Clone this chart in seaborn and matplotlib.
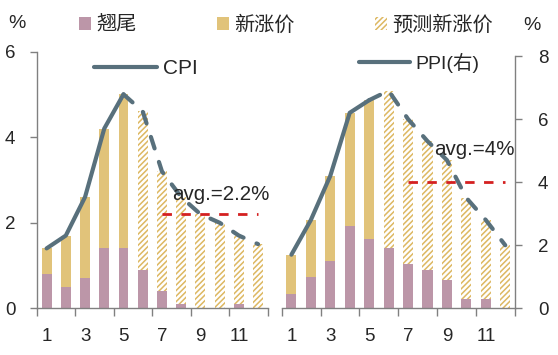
import matplotlib
matplotlib.use("Agg")
import matplotlib.pyplot as plt
import seaborn as sns
import numpy as np
import pandas as pd
from matplotlib.patches import Patch

# ---------------- data ----------------
months = list(range(1, 13))
tick_months = months[::2]
tick_labels = ["1", "3", "5", "7", "9", "11"]
n_actual = 5            # months 1-5 actual, 6-12 forecast
series_names = ["翘尾", "新涨价", "预测新涨价"]

cpi_carry = [0.8, 0.5, 0.7, 1.4, 1.4, 0.9, 0.4, 0.1, 0.0, 0.0, 0.1, 0.0]
cpi_total = [1.4, 1.7, 2.6, 4.2, 5.0, 4.6, 3.2, 2.6, 2.2, 2.0, 1.7, 1.5]
cpi_line = [1.4, 1.7, 2.6, 4.2, 5.0, 4.6, 3.2, 2.6, 2.2, 2.0, 1.7, 1.5]
cpi_avg = 2.2

ppi_carry = [0.45, 1.0, 1.5, 2.6, 2.2, 1.9, 1.4, 1.2, 0.9, 0.3, 0.3, 0.0]
ppi_total = [1.7, 2.8, 4.2, 6.2, 6.6, 6.9, 6.0, 5.3, 4.7, 3.5, 2.8, 2.0]
ppi_line = [1.7, 2.8, 4.2, 6.2, 6.6, 6.9, 6.0, 5.3, 4.7, 3.5, 2.8, 2.0]
ppi_avg = 4.0
avg_months = months[6:]

# ---------------- style ----------------
PURPLE = "#BC96A8"
TAN = "#E1C37A"
HATCH_C = "#DDB862"
SLATE = "#58707C"
RED = "#D42020"
GRAY = "#808080"
HATCH = "//////"

sns.set_theme(style="ticks")
plt.rcParams["font.family"] = ["Liberation Sans", "Noto Sans CJK SC", "DejaVu Sans"]
plt.rcParams["hatch.linewidth"] = 1.1
plt.rcParams["axes.edgecolor"] = GRAY

fig = plt.figure(figsize=(5.58, 3.55), dpi=100)
ax1 = fig.add_axes([0.0663, 0.1315, 0.4134, 0.7234])
ax2 = fig.add_axes([0.5048, 0.1315, 0.4181, 0.7107])


def draw_panel(ax, carry, total, line, avg, ymax, ystep):
    df = pd.DataFrame({"month": months, "total": total, "carry": carry})
    sns.barplot(data=df, x="month", y="total", native_scale=True, width=0.52,
                color=TAN, saturation=1, linewidth=0, errorbar=None, ax=ax)
    for p in ax.patches[n_actual:]:
        p.set_facecolor("white")
        p.set_edgecolor(HATCH_C)
        p.set_hatch(HATCH)
        p.set_linewidth(0)
    sns.barplot(data=df, x="month", y="carry", native_scale=True, width=0.52,
                color=PURPLE, saturation=1, linewidth=0, errorbar=None, ax=ax)
    # line: solid for actual, dashed for forecast
    sns.lineplot(x=months[:n_actual], y=line[:n_actual], color=SLATE, lw=3,
                 solid_capstyle="round", ax=ax)
    sns.lineplot(x=months[n_actual - 1:], y=line[n_actual - 1:], color=SLATE, lw=3,
                 linestyle=(0, (2.9, 3.4)), dash_capstyle="round", ax=ax)
    # average line
    sns.lineplot(x=avg_months, y=[avg] * len(avg_months), color=RED, lw=2,
                 linestyle=(0, (3.4, 3.4)), ax=ax)
    ax.set_xlim(months[0] - 0.5, months[-1] + 0.5)
    ax.set_ylim(0, ymax)
    ax.set_yticks(np.arange(0, ymax + 0.01, ystep))
    ax.set_xticks(tick_months)
    ax.set_xticklabels(tick_labels)
    ax.set_xticks([m - 0.5 for m in tick_months] + [months[-1] + 0.5], minor=True)
    ax.tick_params(axis="x", which="major", length=0, pad=14, labelsize=13.5)
    ax.tick_params(axis="x", which="minor", length=6, width=1, color=GRAY)
    ax.tick_params(axis="y", length=5, width=1, color=GRAY, labelsize=13.5)
    ax.set_xlabel("")
    ax.set_ylabel("")
    for s in ax.spines.values():
        s.set_color(GRAY)
        s.set_linewidth(1)
    return ax.lines[0]


l1 = draw_panel(ax1, cpi_carry, cpi_total, cpi_line, cpi_avg, 6, 2)
l2 = draw_panel(ax2, ppi_carry, ppi_total, ppi_line, ppi_avg, 8, 2)

ax1.spines["top"].set_visible(False)
ax1.spines["right"].set_visible(False)
ax1.tick_params(axis="y", pad=10.5)

ax2.spines["top"].set_visible(False)
ax2.spines["left"].set_visible(False)
ax2.yaxis.tick_right()
ax2.tick_params(axis="y", pad=11.5)

ax1.text(7.55, 2.65, f"avg.={cpi_avg:g}%", ha="left", va="center", fontsize=14.8)
ax2.text(8.35, 5.05, f"avg.={ppi_avg:g}%", ha="left", va="center", fontsize=14.8)

fig.text(17 / 558, 1 - 23 / 355, "%", ha="center", va="center", fontsize=14)
fig.text(532 / 558, 1 - 25 / 355, "%", ha="center", va="center", fontsize=14)

handles = [Patch(facecolor=PURPLE, linewidth=0),
           Patch(facecolor=TAN, linewidth=0),
           Patch(facecolor="white", edgecolor=HATCH_C, hatch=HATCH, linewidth=0)]
fig.legend(handles=handles, labels=series_names, ncol=3, loc="center",
           bbox_to_anchor=(0.512, 1 - 25 / 355), frameon=False, fontsize=14.5,
           handlelength=0.6, handleheight=0.6, handletextpad=0.25,
           columnspacing=4.0, borderpad=0, borderaxespad=0)

ax1.legend(handles=[l1], labels=["CPI"], loc="center left",
           bbox_to_anchor=(94 / 558, 1 - 69 / 355), bbox_transform=fig.transFigure,
           frameon=False, fontsize=15, handlelength=3.0, handletextpad=0.3,
           borderpad=0, borderaxespad=0)
ax2.legend(handles=[l2], labels=["PPI(右)"], loc="center left",
           bbox_to_anchor=(359 / 558, 1 - 63 / 355), bbox_transform=fig.transFigure,
           frameon=False, fontsize=14, handlelength=2.6, handletextpad=0.3,
           borderpad=0, borderaxespad=0)

fig.savefig("out.png", dpi=100)
